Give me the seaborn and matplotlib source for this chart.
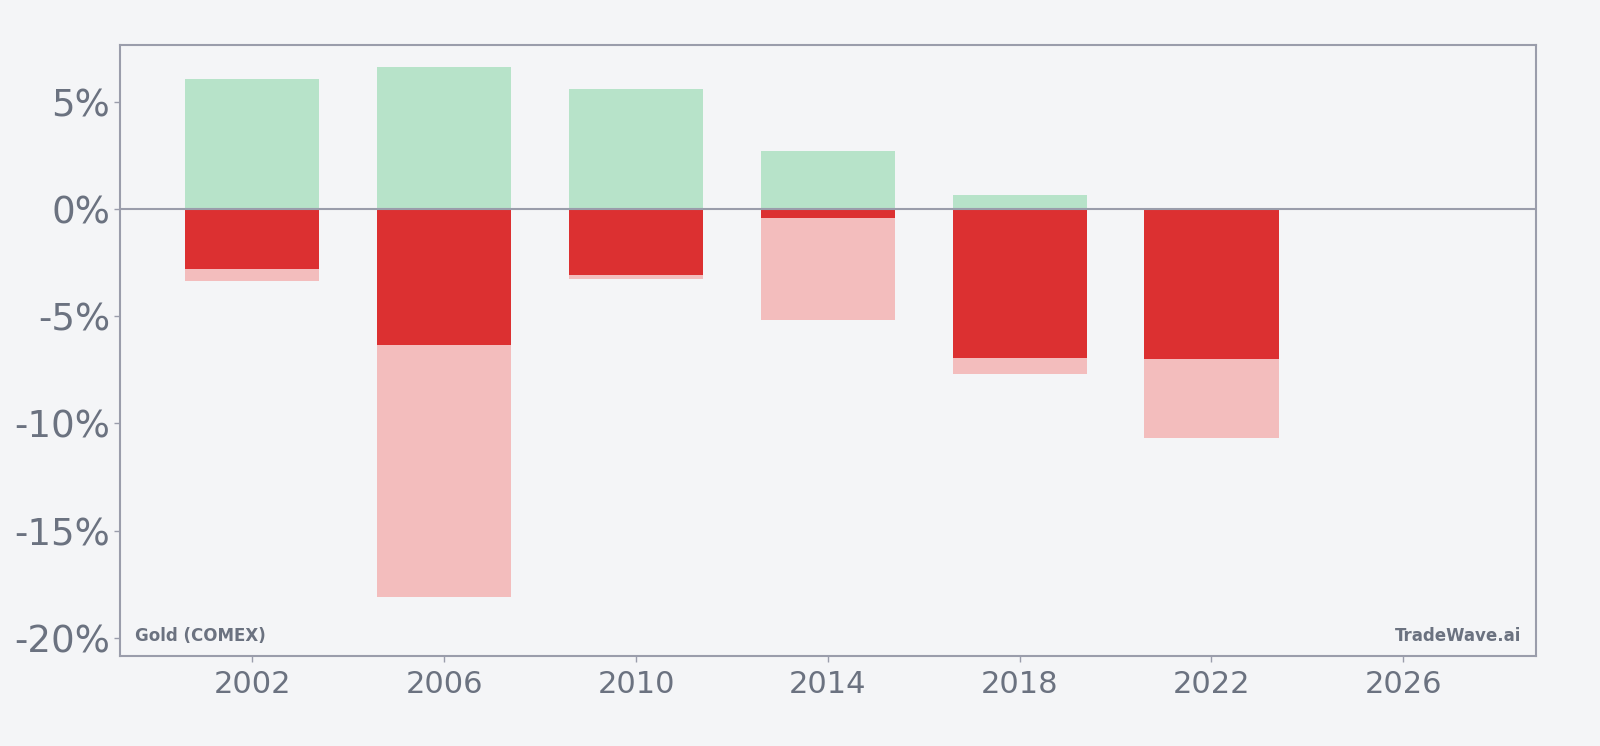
import pandas as pd
import matplotlib
matplotlib.use("Agg")
import matplotlib.pyplot as plt
import seaborn as sns
from matplotlib.ticker import FuncFormatter

# Daten, Werte in Prozent
years = [2002, 2006, 2010, 2014, 2018, 2022]
max_gain = [6.1, 6.65, 5.6, 2.7, 0.65, 0.0]
final_loss = [-2.8, -6.35, -3.05, -0.4, -6.95, -7.0]
max_drawdown = [-3.35, -18.1, -3.25, -5.15, -7.7, -10.7]

BG = "#f4f5f7"
TEXT = "#6b7280"
SPINE = "#9a9dab"

df = pd.DataFrame({
    "year": years,
    "gain": max_gain,
    "loss": final_loss,
    "drawdown": max_drawdown,
})

sns.set_style("white")
plt.rcParams["font.family"] = ["DejaVu Sans"]

fig = plt.figure(figsize=(16, 7.46), dpi=100, facecolor=BG)
ax = fig.add_axes([0.0753, 0.1204, 0.8845, 0.8194])
ax.set_facecolor(BG)

# Balken: helles Rot (Drawdown), dunkles Rot, Grün
bar_kw = dict(native_scale=True, width=0.7, saturation=1, linewidth=0, ax=ax)
sns.barplot(data=df, x="year", y="drawdown", color="#f3bdbd", **bar_kw)
sns.barplot(data=df, x="year", y="loss", color="#dc3031", **bar_kw)
sns.barplot(data=df, x="year", y="gain", color="#b7e3c9", **bar_kw)

ax.axhline(0, color=SPINE, lw=1.5, zorder=5)

ax.set_xlim(1999.25, 2028.76)
ax.set_ylim(-20.86, 7.67)
ax.set_xticks([2002, 2006, 2010, 2014, 2018, 2022, 2026])
ax.set_yticks([5, 0, -5, -10, -15, -20])
ax.yaxis.set_major_formatter(FuncFormatter(lambda v, p: f"{v:.0f}%"))
ax.set_xlabel("")
ax.set_ylabel("")

ax.tick_params(axis="y", labelsize=26.7, colors=TEXT, length=4, width=1, color=SPINE, pad=3.5)
ax.tick_params(axis="x", labelsize=22, colors=TEXT, length=4, width=1, color=SPINE, pad=6)
ax.tick_params(left=True, bottom=True)

for s in ax.spines.values():
    s.set_visible(True)
    s.set_color(SPINE)
    s.set_linewidth(1.5)

ax.text(0.01, 0.019, "Gold (COMEX)", transform=ax.transAxes, fontsize=12,
        fontweight="bold", color=TEXT, ha="left", va="bottom")
ax.text(0.99, 0.019, "TradeWave.ai", transform=ax.transAxes, fontsize=12,
        fontweight="bold", color=TEXT, ha="right", va="bottom")

fig.savefig("out.png", dpi=100, facecolor=BG)
